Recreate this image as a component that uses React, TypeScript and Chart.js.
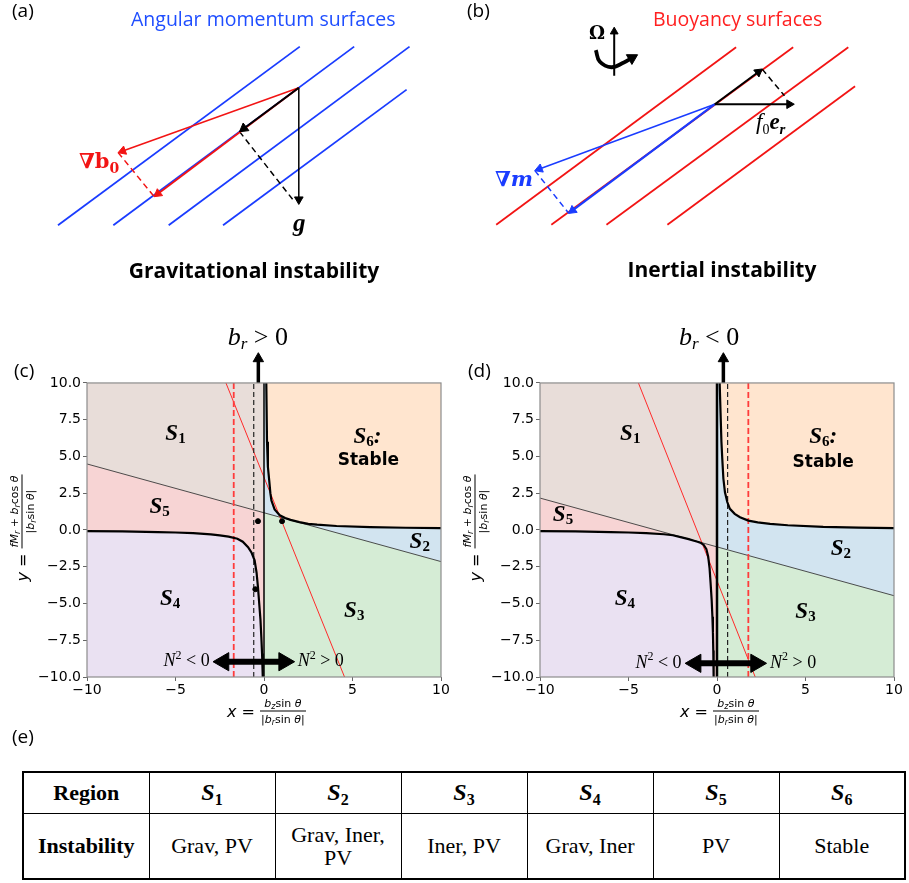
import React, { useEffect, useRef } from 'react';
import { Chart, registerables } from 'chart.js';

Chart.register(...registerables);

type Pt = [number, number];

/* ---------------- (a) gravitational instability sketch (diagram units, y downward) ---------------- */
const aSurfacesFrom: Pt[] = [[53, 229], [110, 229], [167, 229], [223, 229]];
const aSurfacesTo: Pt[] = [[302, 42], [358, 42], [415, 42], [412, 87]];
const aOrigin: Pt = [301, 85];
const aGravityTip: Pt = [301, 207];
const aAlongTip: Pt = [240, 131];
const aGravityDashEnd: Pt = [297, 205];
const aGradBTip: Pt = [115, 153];
const aGradBAlongTip: Pt = [152, 199];

/* ---------------- (b) inertial instability sketch ---------------- */
const bSurfacesFrom: Pt[] = [[40, 229], [97, 229], [154, 229], [217, 229]];
const bSurfacesTo: Pt[] = [[288, 42], [347, 42], [404, 42], [411, 83]];
const bOrigin: Pt = [266, 102];
const bRadialTip: Pt = [348, 102];
const bAlongTip: Pt = [315, 65];
const bRadialDashEnd: Pt = [338, 93];
const bGradMTip: Pt = [80, 172];
const bGradMAlongTip: Pt = [115, 217];
const bAxisFrom: Pt = [162, 72];
const bAxisTo: Pt = [162, 21];
const bSpinArc: Pt[] = [[143, 45], [147, 57], [159, 63], [172, 58], [186, 50]];

/* ---------------- (c)/(d) regime diagrams ---------------- */
const xTickValues = [-10, -5, 0, 5, 10];
const yTickValues = [-10, -7.5, -5, -2.5, 0, 2.5, 5, 7.5, 10];
const Y_LO = -10;
const Y_HI = 10;
const Y_VIEW_TOP = 13.5; // room above the panel for the b_r arrow

// (c) b_r > 0
const cUpperX = [0.13, 0.17, 0.22, 0.3, 0.36, 0.42, 0.6, 0.89, 1.2, 1.5, 2.0, 2.5, 3.0, 4.1, 6.0, 8.0, 10.0];
const cUpperY = [10.0, 6.0, 4.3, 3.3, 2.5, 2.0, 1.4, 1.0, 0.82, 0.69, 0.53, 0.42, 0.36, 0.27, 0.19, 0.15, 0.12];
const cLowerX = [-10, -8, -6, -5, -4, -3, -2.5, -2.0, -1.5, -1.2, -0.9, -0.7, -0.53, -0.42, -0.34, -0.27, -0.2, -0.15, -0.11, -0.07];
const cLowerY = [-0.08, -0.1, -0.14, -0.17, -0.22, -0.3, -0.37, -0.45, -0.6, -0.8, -1.17, -1.55, -2.07, -2.9, -3.9, -5.0, -6.1, -7.3, -8.4, -10];
const cDivideX = [-10, 0, 10];
const cDivideY = [4.49, 1.17, -2.15];
const cRedX = [-2.15, 4.55];
const cRedY = [10, -10];
const cRedDashX = -1.71;
const cBlackDashX = -0.58;
const cDotsX = [-0.34, 1.02, -0.49];
const cDotsY = [0.6, 0.6, -4.03];
const cBrArrowX = -0.32;
const cBrArrowY = [10, 11.65];
const cN2ArrowX = [-2.88, 1.73];
const cN2ArrowY = -8.96;

// (d) b_r < 0
const dUpperX = [0.15, 0.2, 0.25, 0.3, 0.36, 0.45, 0.58, 0.73, 1.0, 1.3, 1.77, 2.3, 3.0, 4.0, 6.0, 8.0, 10.0];
const dUpperY = [10.0, 8.0, 6.0, 4.8, 3.5, 2.56, 1.9, 1.44, 1.1, 0.87, 0.64, 0.52, 0.42, 0.32, 0.21, 0.16, 0.12];
const dLowerX = [-10, -8, -6, -5, -4, -3, -2.5, -2.0, -1.6, -1.3, -1.1, -0.9, -0.75, -0.6, -0.5, -0.42, -0.36, -0.3, -0.26, -0.23, -0.21, -0.19];
const dLowerY = [-0.08, -0.1, -0.14, -0.17, -0.22, -0.29, -0.36, -0.5, -0.62, -0.73, -0.8, -0.89, -1.02, -1.3, -1.8, -2.6, -3.65, -4.8, -5.9, -7.0, -8.2, -10];
const dDivideX = [-10, 0, 10];
const dDivideY = [2.17, -1.15, -4.47];
const dRedX = [-4.44, 2.16];
const dRedY = [10, -10];
const dRedDashX = 1.77;
const dBlackDashX = 0.6;
const dDotsX: number[] = [];
const dDotsY: number[] = [];
const dBrArrowX = 0.36;
const dBrArrowY = [10, 11.65];
const dN2ArrowX = [-1.8, 2.8];
const dN2ArrowY = -9.07;

// region labels S1..S6
const regionIds = ['1', '2', '3', '4', '5', '6'];
const cLabelX = [-5.0, 8.8, 5.1, -5.3, -5.9, 5.85];
const cLabelY = [6.5, -0.83, -5.5, -4.7, 1.55, 6.33];
const dLabelX = [-4.9, 7.0, 5.0, -5.2, -8.7, 6.0];
const dLabelY = [6.5, -1.3, -5.6, -4.7, 1.0, 6.33];

/* ---------------- (e) table ---------------- */
const tableRegions = ['1', '2', '3', '4', '5', '6'];
const tableInstability = ['Grav, PV', 'Grav, Iner, PV', 'Iner, PV', 'Grav, Iner', 'PV', 'Stable'];

/* ---------------- styling ---------------- */
const BLUE = '#1a3cff';
const RED = '#f21414';
const FILL_S1 = '#e8ddd9';
const FILL_S2 = '#d2e4f0';
const FILL_S3 = '#d5ecd5';
const FILL_S4 = '#eae1f2';
const FILL_S5 = '#f7d4d4';
const FILL_S6 = '#ffe5cf';
const NONE = 'rgba(0,0,0,0)';
const PLOT_W = 354; // chart-area width in px, used to size arrowheads in data units

type Seg = { pts: Pt[]; color: string; width: number; dash?: number[]; head?: number; tension?: number };

function DiagramChart({ left, top, width, height, segs }: { left: number; top: number; width: number; height: number; segs: Seg[] }) {
  const ref = useRef<HTMLCanvasElement>(null);
  useEffect(() => {
    const datasets: any[] = [];
    segs.forEach((s, i) => {
      const pts = s.pts.slice();
      let headPt: any = null;
      let rot = 0;
      if (s.head) {
        const n = pts.length;
        const [x1, y1] = pts[n - 2];
        const [x2, y2] = pts[n - 1];
        const len = Math.hypot(x2 - x1, y2 - y1);
        const ux = (x2 - x1) / len;
        const uy = (y2 - y1) / len;
        headPt = { x: x2 - ux * s.head, y: y2 - uy * s.head };
        rot = (Math.atan2(ux, -uy) * 180) / Math.PI;
        pts[n - 1] = [headPt.x, headPt.y];
      }
      datasets.push({
        data: pts.map(([x, y]) => ({ x, y })),
        borderColor: s.color,
        borderWidth: s.width,
        borderDash: s.dash || [],
        borderCapStyle: 'butt',
        pointRadius: 0,
        tension: s.tension || 0,
        fill: false,
        showLine: true,
        order: 1000 - i * 2,
      });
      if (headPt) {
        datasets.push({
          data: [headPt],
          showLine: false,
          pointStyle: 'triangle',
          pointRadius: s.head,
          pointRotation: rot,
          pointBackgroundColor: s.color,
          pointBorderColor: s.color,
          pointBorderWidth: 1,
          order: 999 - i * 2,
        });
      }
    });
    const chart = new Chart(ref.current!, {
      type: 'line',
      data: { datasets },
      options: {
        responsive: false,
        animation: false,
        devicePixelRatio: 1,
        events: [],
        layout: { padding: 0 },
        plugins: { legend: { display: false }, tooltip: { enabled: false } },
        scales: {
          x: { type: 'linear', min: 0, max: width, display: false },
          y: { type: 'linear', min: 0, max: height, reverse: true, display: false },
        },
      } as any,
    });
    return () => chart.destroy();
  }, []);
  return <canvas ref={ref} width={width} height={height} style={{ position: 'absolute', left, top, width, height }} />;
}

type Run = { t: string; font: string; dy?: number };
type TextMark = { x: number; y: number; runs: Run[]; align?: 'left' | 'center' | 'right'; color?: string };

function makeTextPlugin(marks: TextMark[]) {
  return {
    id: 'textMarks',
    afterDatasetsDraw(chart: any) {
      const { ctx, scales } = chart;
      ctx.save();
      ctx.textBaseline = 'middle';
      ctx.textAlign = 'left';
      for (const m of marks) {
        const px = scales.x.getPixelForValue(m.x);
        const py = scales.y.getPixelForValue(m.y);
        const widths = m.runs.map((r) => {
          ctx.font = r.font;
          return ctx.measureText(r.t).width;
        });
        const total = widths.reduce((a, b) => a + b, 0);
        let cx = m.align === 'left' ? px : m.align === 'right' ? px - total : px - total / 2;
        ctx.fillStyle = m.color || '#000';
        m.runs.forEach((r, i) => {
          ctx.font = r.font;
          ctx.fillText(r.t, cx, py + (r.dy || 0));
          cx += widths[i];
        });
      }
      ctx.restore();
    },
  };
}

// box around the [-10,10] x [-10,10] panel
const framePlugin = {
  id: 'frame',
  afterDatasetsDraw(chart: any) {
    const { ctx, scales } = chart;
    const l = scales.x.getPixelForValue(-10);
    const r = scales.x.getPixelForValue(10);
    const t = scales.y.getPixelForValue(Y_HI);
    const b = scales.y.getPixelForValue(Y_LO);
    ctx.save();
    ctx.strokeStyle = '#8c8c8c';
    ctx.lineWidth = 1.2;
    ctx.strokeRect(l, t, r - l, b - t);
    ctx.restore();
  },
};

type PhaseCfg = {
  upperX: number[]; upperY: number[]; lowerX: number[]; lowerY: number[];
  divideX: number[]; divideY: number[]; redX: number[]; redY: number[];
  redDashX: number; blackDashX: number; dotsX: number[]; dotsY: number[];
  brX: number; brY: number[]; n2X: number[]; n2Y: number;
  labelX: number[]; labelY: number[]; stableX: number; stableY: number;
  brText: string; brLabelX: number; n2LeftX: number; n2RightX: number;
  zeroWidth: number; padRight: number;
};

const SFONT = "italic bold 23px 'Liberation Serif'";
const SSUB = "bold 15px 'Liberation Serif'";
const MFONT = "italic 18px 'Liberation Serif'";
const MUP = "18px 'Liberation Serif'";
const MSUP = "12px 'Liberation Serif'";

function buildMarks(c: PhaseCfg): TextMark[] {
  const marks: TextMark[] = regionIds.map((id, i) => ({
    x: c.labelX[i],
    y: c.labelY[i],
    runs: [
      { t: 'S', font: SFONT },
      { t: id, font: SSUB, dy: 5 },
      ...(id === '6' ? [{ t: ':', font: SFONT }] : []),
    ],
  }));
  marks.push({ x: c.stableX, y: c.stableY, runs: [{ t: 'Stable', font: "bold 17px 'DejaVu Sans'" }] });
  marks.push({
    x: c.brLabelX, y: 13.05,
    runs: [
      { t: 'b', font: "italic 26px 'Liberation Serif'" },
      { t: 'r', font: "italic 17px 'Liberation Serif'", dy: 6 },
      { t: ' ' + c.brText + ' 0', font: "26px 'Liberation Serif'" },
    ],
  });
  marks.push({
    x: c.n2LeftX, y: c.n2Y, align: 'right',
    runs: [{ t: 'N', font: MFONT }, { t: '2', font: MSUP, dy: -6 }, { t: ' < 0', font: MUP }],
  });
  marks.push({
    x: c.n2RightX, y: c.n2Y, align: 'left',
    runs: [{ t: 'N', font: MFONT }, { t: '2', font: MSUP, dy: -6 }, { t: ' > 0', font: MUP }],
  });
  return marks;
}

const fmtMinus = (s: string) => s.replace('-', '\u2212');

function PhaseChart({ left, width, cfg }: { left: number; width: number; cfg: PhaseCfg }) {
  const ref = useRef<HTMLCanvasElement>(null);
  useEffect(() => {
    const xy = (xs: number[], ys: number[]) => xs.map((x, i) => ({ x, y: ys[i] }));
    const base = { showLine: true, pointRadius: 0, borderColor: NONE, borderWidth: 1, fill: false, tension: 0, borderCapStyle: 'butt' };
    const headR = 10.5;
    const headU = (headR * 20) / PLOT_W;
    const [n2L, n2R] = cfg.n2X;
    const datasets: any[] = [
      { ...base, data: [{ x: -10, y: Y_HI }, { x: 0, y: Y_HI }], fill: 'start', backgroundColor: FILL_S1, order: 30 },
      { ...base, data: xy(cfg.divideX.slice(0, 2), cfg.divideY.slice(0, 2)), fill: 'start', backgroundColor: FILL_S5, order: 29 },
      { ...base, data: xy(cfg.lowerX, cfg.lowerY), fill: 'start', backgroundColor: FILL_S4, order: 28 },
      { ...base, data: [{ x: 0, y: Y_HI }, { x: 10, y: Y_HI }], fill: 'start', backgroundColor: FILL_S2, order: 27 },
      { ...base, data: xy(cfg.divideX.slice(1), cfg.divideY.slice(1)), fill: 'start', backgroundColor: FILL_S3, order: 26 },
      { ...base, data: xy(cfg.upperX, cfg.upperY), fill: { value: Y_HI }, backgroundColor: FILL_S6, order: 25 },
      { ...base, data: xy(cfg.divideX, cfg.divideY), borderColor: '#3a3a3a', borderWidth: 0.9, order: 20 },
      { ...base, data: xy(cfg.redX, cfg.redY), borderColor: '#ff2a2a', borderWidth: 1, order: 19 },
      { ...base, data: [{ x: cfg.redDashX, y: Y_LO }, { x: cfg.redDashX, y: Y_HI }], borderColor: '#ff3b3b', borderWidth: 1.8, borderDash: [6, 3], order: 18 },
      { ...base, data: [{ x: cfg.blackDashX, y: Y_LO }, { x: cfg.blackDashX, y: Y_HI }], borderColor: '#222', borderWidth: 1.2, borderDash: [5, 3], order: 17 },
      { ...base, data: [{ x: 0, y: Y_LO }, { x: 0, y: Y_HI }], borderColor: '#000', borderWidth: cfg.zeroWidth, order: 16 },
      { ...base, data: xy(cfg.upperX, cfg.upperY), borderColor: '#000', borderWidth: 2.2, order: 15 },
      { ...base, data: xy(cfg.lowerX, cfg.lowerY), borderColor: '#000', borderWidth: 2.2, order: 15 },
      { showLine: false, data: xy(cfg.dotsX, cfg.dotsY), pointRadius: 2.5, pointBackgroundColor: '#000', pointBorderColor: '#000', order: 10 },
      { ...base, data: cfg.brY.map((y) => ({ x: cfg.brX, y })), borderColor: '#000', borderWidth: 3.5, order: 5 },
      { showLine: false, data: [{ x: cfg.brX, y: cfg.brY[1] }], pointStyle: 'triangle', pointRadius: 6, pointRotation: 0, pointBackgroundColor: '#000', pointBorderColor: '#000', order: 5 },
      { ...base, data: [{ x: n2L + headU, y: cfg.n2Y }, { x: n2R - headU, y: cfg.n2Y }], borderColor: '#000', borderWidth: 6, order: 4 },
      { showLine: false, data: [{ x: n2L + headU, y: cfg.n2Y }], pointStyle: 'triangle', pointRadius: headR, pointRotation: 270, pointBackgroundColor: '#000', pointBorderColor: '#000', order: 4 },
      { showLine: false, data: [{ x: n2R - headU, y: cfg.n2Y }], pointStyle: 'triangle', pointRadius: headR, pointRotation: 90, pointBackgroundColor: '#000', pointBorderColor: '#000', order: 4 },
    ];
    const tickFont = { family: 'DejaVu Sans', size: 14 };
    const chart = new Chart(ref.current!, {
      type: 'line',
      data: { datasets },
      options: {
        responsive: false,
        animation: false,
        devicePixelRatio: 1,
        events: [],
        layout: { padding: { left: 37, top: 11, right: cfg.padRight, bottom: 23 } },
        plugins: { legend: { display: false }, tooltip: { enabled: false } },
        scales: {
          x: {
            type: 'linear', min: -10, max: 10,
            afterBuildTicks: (s: any) => { s.ticks = xTickValues.map((value) => ({ value })); },
            afterFit: (s: any) => { s.height = 20; },
            ticks: { font: tickFont, color: '#000', padding: 1, maxRotation: 0, autoSkip: false, callback: (v: any) => fmtMinus(String(v)) },
            grid: { drawOnChartArea: false, drawTicks: true, tickLength: 4, tickColor: '#666', tickWidth: 1 },
            border: { display: false },
          },
          y: {
            type: 'linear', min: Y_LO, max: Y_VIEW_TOP,
            afterBuildTicks: (s: any) => { s.ticks = yTickValues.map((value) => ({ value })); },
            afterFit: (s: any) => { s.width = 50; },
            ticks: { font: tickFont, color: '#000', padding: 2, autoSkip: false, callback: (v: any) => fmtMinus(Number(v).toFixed(1)) },
            grid: { drawOnChartArea: false, drawTicks: true, tickLength: 4, tickColor: '#666', tickWidth: 1 },
            border: { display: false },
          },
        },
      } as any,
      plugins: [framePlugin, makeTextPlugin(buildMarks(cfg))],
    });
    return () => chart.destroy();
  }, []);
  return <canvas ref={ref} width={width} height={400} style={{ position: 'absolute', left, top: 320, width, height: 400 }} />;
}

const cCfg: PhaseCfg = {
  upperX: cUpperX, upperY: cUpperY, lowerX: cLowerX, lowerY: cLowerY,
  divideX: cDivideX, divideY: cDivideY, redX: cRedX, redY: cRedY,
  redDashX: cRedDashX, blackDashX: cBlackDashX, dotsX: cDotsX, dotsY: cDotsY,
  brX: cBrArrowX, brY: cBrArrowY, n2X: cN2ArrowX, n2Y: cN2ArrowY,
  labelX: cLabelX, labelY: cLabelY, stableX: 5.9, stableY: 4.7,
  brText: '>', brLabelX: -0.35, n2LeftX: -3.07, n2RightX: 1.9,
  zeroWidth: 1.5, padRight: 19,
};

const dCfg: PhaseCfg = {
  upperX: dUpperX, upperY: dUpperY, lowerX: dLowerX, lowerY: dLowerY,
  divideX: dDivideX, divideY: dDivideY, redX: dRedX, redY: dRedY,
  redDashX: dRedDashX, blackDashX: dBlackDashX, dotsX: dDotsX, dotsY: dDotsY,
  brX: dBrArrowX, brY: dBrArrowY, n2X: dN2ArrowX, n2Y: dN2ArrowY,
  labelX: dLabelX, labelY: dLabelY, stableX: 6.0, stableY: 4.6,
  brText: '<', brLabelX: -0.45, n2LeftX: -2.0, n2RightX: 3.0,
  zeroWidth: 2.5, padRight: 15,
};

const aSegs: Seg[] = [
  ...aSurfacesFrom.map((p, i) => ({ pts: [p, aSurfacesTo[i]] as Pt[], color: BLUE, width: 1.8 })),
  { pts: [aGradBTip, aGradBAlongTip], color: RED, width: 1.5, dash: [6, 4] },
  { pts: [aAlongTip, aGravityDashEnd], color: '#000', width: 1.5, dash: [6, 4] },
  { pts: [aOrigin, aGradBTip], color: RED, width: 1.5, head: 5 },
  { pts: [aOrigin, aGradBAlongTip], color: RED, width: 1.8, head: 5 },
  { pts: [aOrigin, aAlongTip], color: '#000', width: 2, head: 5.5 },
  { pts: [aOrigin, aGravityTip], color: '#000', width: 1.5, head: 5 },
];

const bSegs: Seg[] = [
  ...bSurfacesFrom.map((p, i) => ({ pts: [p, bSurfacesTo[i]] as Pt[], color: RED, width: 1.8 })),
  { pts: [bGradMTip, bGradMAlongTip], color: BLUE, width: 1.5, dash: [6, 4] },
  { pts: [bAlongTip, bRadialDashEnd], color: '#000', width: 1.5, dash: [6, 4] },
  { pts: [bOrigin, bGradMTip], color: BLUE, width: 1.5, head: 5 },
  { pts: [bOrigin, bGradMAlongTip], color: BLUE, width: 2.2, head: 5 },
  { pts: [bOrigin, bRadialTip], color: '#000', width: 2, head: 5 },
  { pts: [bOrigin, bAlongTip], color: '#000', width: 2, head: 5 },
  { pts: [bAxisFrom, bAxisTo], color: '#000', width: 2, head: 4.5 },
  { pts: bSpinArc, color: '#000', width: 3.8, head: 6.5, tension: 0.4 },
];

function Txt({ x, y, center, style, children }: { x: number; y: number; center?: boolean; style?: any; children: any }) {
  return (
    <div style={{ position: 'absolute', left: x, top: y, lineHeight: 1, whiteSpace: 'nowrap', transform: center ? 'translateX(-50%)' : undefined, ...style }}>
      {children}
    </div>
  );
}

const Sub = ({ children, size, drop }: { children: any; size?: number; drop?: number }) => (
  <span style={{ fontSize: size || '0.68em', verticalAlign: -(drop ?? 4), lineHeight: 0 }}>{children}</span>
);

function Frac({ num, den }: { num: any; den: any }) {
  return (
    <span style={{ display: 'inline-flex', flexDirection: 'column', alignItems: 'stretch', fontSize: 11, lineHeight: '13px', marginLeft: 5, textAlign: 'center' }}>
      <span style={{ padding: '0 1px', paddingBottom: 1 }}>{num}</span>
      <span style={{ borderTop: '1px solid #000', padding: '0 1px', paddingTop: 1 }}>{den}</span>
    </span>
  );
}

const sinDen = (
  <>|<i>b</i><Sub size={8} drop={2}><i>r</i></Sub>sin <i>θ</i>|</>
);

function XTitle({ x }: { x: number }) {
  return (
    <div style={{ position: 'absolute', left: x, top: 711, transform: 'translateY(-50%)', display: 'flex', alignItems: 'center', fontFamily: 'DejaVu Sans', whiteSpace: 'nowrap' }}>
      <span style={{ fontSize: 16 }}><i>x</i> =</span>
      <Frac num={<><i>b</i><Sub size={8} drop={2}><i>z</i></Sub>sin <i>θ</i></>} den={sinDen} />
    </div>
  );
}

function YTitle({ cx }: { cx: number }) {
  return (
    <div style={{ position: 'absolute', left: cx, top: 528, transform: 'translate(-50%, -50%) rotate(-90deg)', display: 'flex', alignItems: 'center', fontFamily: 'DejaVu Sans', whiteSpace: 'nowrap' }}>
      <span style={{ fontSize: 16 }}><i>y</i> =</span>
      <Frac
        num={<><i>f</i><i>M</i><Sub size={8} drop={2}><i>r</i></Sub> + <i>b</i><Sub size={8} drop={2}><i>r</i></Sub>cos <i>θ</i></>}
        den={sinDen}
      />
    </div>
  );
}

function RegionTable() {
  const cell: any = { border: '1px solid #000', textAlign: 'center', verticalAlign: 'middle', padding: '0 8px', fontSize: 22 };
  return (
    <table style={{ position: 'absolute', left: 22, top: 771, width: 884, borderCollapse: 'collapse', tableLayout: 'fixed', fontFamily: "'Liberation Serif'", color: '#000', border: '2px solid #000' }}>
      <colgroup>
        {[0, 1, 2, 3, 4, 5, 6].map((i) => <col key={i} style={{ width: 126 }} />)}
      </colgroup>
      <tbody>
        <tr style={{ height: 41 }}>
          <td style={{ ...cell, fontWeight: 'bold' }}>Region</td>
          {tableRegions.map((r) => (
            <td key={r} style={cell}>
              <span style={{ fontWeight: 'bold', fontStyle: 'italic', fontSize: 24 }}>S</span>
              <Sub size={16} drop={5}><b>{r}</b></Sub>
            </td>
          ))}
        </tr>
        <tr style={{ height: 66 }}>
          <td style={{ ...cell, fontWeight: 'bold', lineHeight: 1.05 }}>Instability</td>
          {tableInstability.map((t, i) => (
            <td key={i} style={{ ...cell, lineHeight: 1.05 }}>{t}</td>
          ))}
        </tr>
      </tbody>
    </table>
  );
}

export default function App() {
  const sans = "'Open Sans', 'Liberation Sans', sans-serif";
  return (
    <div style={{ position: 'absolute', left: 0, top: 0, width: 909, height: 883, background: '#fff', overflow: 'hidden', fontFamily: sans, color: '#000' }}>
      <DiagramChart left={0} top={0} width={450} height={290} segs={aSegs} />
      <DiagramChart left={450} top={0} width={459} height={290} segs={bSegs} />
      <PhaseChart left={0} width={460} cfg={cCfg} />
      <PhaseChart left={453} width={456} cfg={dCfg} />

      {/* panel letters */}
      <Txt x={12} y={1} style={{ fontSize: 19 }}>(a)</Txt>
      <Txt x={467} y={1} style={{ fontSize: 19 }}>(b)</Txt>
      <Txt x={14} y={361} style={{ fontSize: 19 }}>(c)</Txt>
      <Txt x={468} y={361} style={{ fontSize: 19 }}>(d)</Txt>
      <Txt x={12} y={727} style={{ fontSize: 19 }}>(e)</Txt>

      {/* (a) texts */}
      <Txt x={131} y={9} style={{ fontSize: 19.5, color: '#1f4eff' }}>Angular momentum surfaces</Txt>
      <Txt x={79} y={150} style={{ fontFamily: "'DejaVu Serif'", fontWeight: 'bold', fontSize: 21, color: RED }}>
        ∇b<Sub size={14} drop={5}>0</Sub>
      </Txt>
      <Txt x={293} y={210} style={{ fontFamily: "'Liberation Serif'", fontWeight: 'bold', fontStyle: 'italic', fontSize: 25 }}>g</Txt>
      <Txt x={254} y={260} center style={{ fontSize: 21, fontWeight: 700 }}>Gravitational instability</Txt>

      {/* (b) texts */}
      <Txt x={653} y={9} style={{ fontSize: 19.5, color: '#ff2020' }}>Buoyancy surfaces</Txt>
      <Txt x={589} y={24} style={{ fontFamily: "'DejaVu Serif'", fontWeight: 'bold', fontSize: 18 }}>Ω</Txt>
      <Txt x={495} y={168} style={{ fontFamily: "'DejaVu Serif'", fontWeight: 'bold', fontStyle: 'italic', fontSize: 21, color: BLUE }}>∇m</Txt>
      <Txt x={756} y={110} style={{ fontFamily: "'Liberation Serif'", fontSize: 23 }}>
        <i>f</i><Sub size={14} drop={5}>0</Sub><b><i>e</i></b><Sub size={15} drop={5}><b><i>r</i></b></Sub>
      </Txt>
      <Txt x={722} y={259} center style={{ fontSize: 21, fontWeight: 700 }}>Inertial instability</Txt>

      {/* axis titles */}
      <XTitle x={227} />
      <XTitle x={680} />
      <YTitle cx={22} />
      <YTitle cx={475} />

      <RegionTable />
    </div>
  );
}
